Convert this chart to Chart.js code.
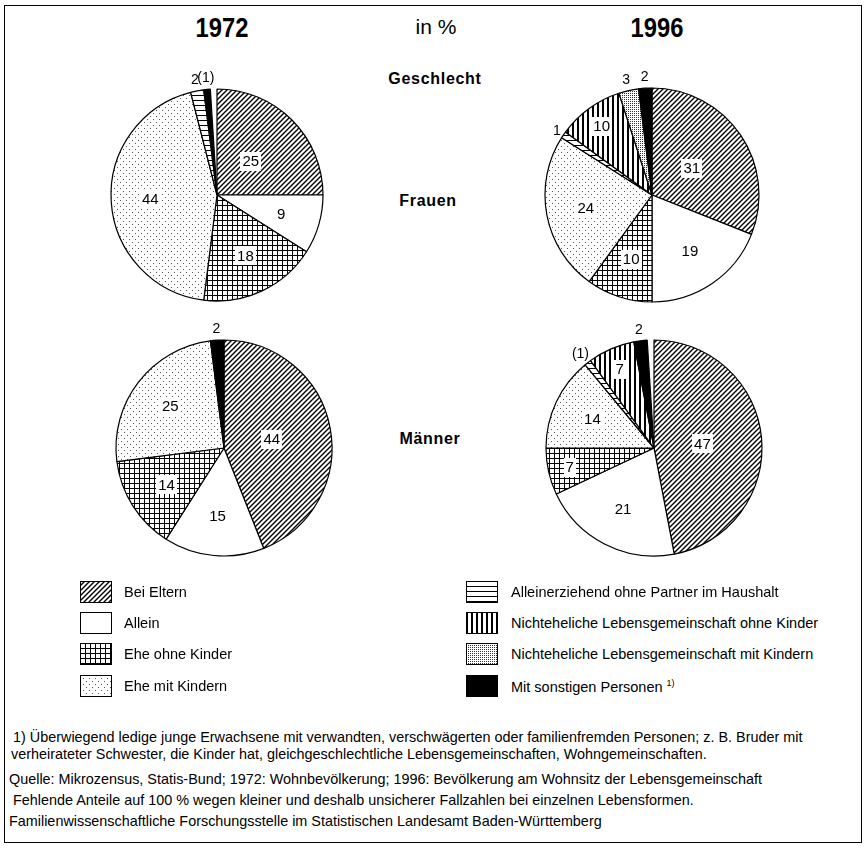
<!DOCTYPE html>
<html><head><meta charset="utf-8">
<script src="https://cdn.jsdelivr.net/npm/chart.js@4.4.0/dist/chart.umd.min.js"></script>
<style>
html,body{margin:0;padding:0;background:#fff;}
body{width:867px;height:848px;position:relative;overflow:hidden;font-family:"Liberation Sans",Arial,sans-serif;color:#000;}
#frame{position:absolute;left:4px;top:5px;width:858px;height:838px;border:1px solid #000;box-sizing:border-box;}
.c{position:absolute;transform:translate(-50%,-50%);white-space:nowrap;}
.t{font-weight:bold;font-size:27px;transform:translate(-50%,-50%) scaleX(0.88);}
.g{font-weight:bold;font-size:16px;letter-spacing:0.7px;}
canvas.pie{position:absolute;display:block;}
.leg{position:absolute;font-size:14.5px;white-space:nowrap;transform:translateY(-50%);}
canvas.sw{position:absolute;display:block;}
.note{position:absolute;font-size:14.4px;white-space:nowrap;transform:translateY(-50%);}
sup{font-size:9px;vertical-align:6px;}
</style></head>
<body>
<div id="frame"></div>
<div class="c t" style="left:222px;top:28px;">1972</div>
<div class="c" style="left:436px;top:27px;font-size:21px;">in %</div>
<div class="c t" style="left:657px;top:28px;">1996</div>
<div class="c g" style="left:435px;top:79px;">Geschlecht</div>
<div class="c g" style="left:428px;top:201px;">Frauen</div>
<div class="c g" style="left:430px;top:439px;">Männer</div>

<canvas class="pie" id="p1" width="260" height="260" style="left:87px;top:65px;"></canvas>
<canvas class="pie" id="p2" width="260" height="260" style="left:522px;top:65px;"></canvas>
<canvas class="pie" id="p3" width="260" height="260" style="left:94px;top:318px;"></canvas>
<canvas class="pie" id="p4" width="260" height="260" style="left:524px;top:318px;"></canvas>

<div id="legend"></div>

<div class="note" style="left:13px;top:737px;">1) Überwiegend ledige junge Erwachsene mit verwandten, verschwägerten oder familienfremden Personen; z. B. Bruder mit</div>
<div class="note" style="left:11px;top:754px;">verheirateter Schwester, die Kinder hat, gleichgeschlechtliche Lebensgemeinschaften, Wohngemeinschaften.</div>
<div class="note" style="left:9px;top:779px;">Quelle: Mikrozensus, Statis-Bund; 1972: Wohnbevölkerung; 1996: Bevölkerung am Wohnsitz der Lebensgemeinschaft</div>
<div class="note" style="left:13px;top:800px;">Fehlende Anteile auf 100 % wegen kleiner und deshalb unsicherer Fallzahlen bei einzelnen Lebensformen.</div>
<div class="note" style="left:9px;top:821px;">Familienwissenschaftliche Forschungsstelle im Statistischen Landesamt Baden-Württemberg</div>

<script>
// ---- data ----
const categories = ["Bei Eltern", "Allein", "Ehe ohne Kinder", "Ehe mit Kindern",
  "Alleinerziehend ohne Partner im Haushalt", "Nichteheliche Lebensgemeinschaft ohne Kinder",
  "Nichteheliche Lebensgemeinschaft mit Kindern", "Mit sonstigen Personen"];
const patternKinds = ["diag", "white", "grid", "dots", "hlines", "vstripes", "fine", "black"];
const frauen1972 = [25, 9, 18, 44, 2, 0, 0, 1];
const frauen1996 = [31, 19, 10, 24, 1, 10, 3, 2];
const maenner1972 = [44, 15, 14, 25, 0, 0, 0, 2];
const maenner1996 = [47, 21, 7, 14, 1, 7, 0, 2];
// indices of values printed in parentheses (uncertain)
const unsicherFrauen1972 = [7];
const unsicherFrauen1996 = [];
const unsicherMaenner1972 = [];
const unsicherMaenner1996 = [4];

// ---- patterns ----
function tile(kind) {
  const c = document.createElement('canvas');
  const x = c.getContext('2d');
  let w = 5, h = 5;
  if (kind === 'dots') { w = 6; h = 6; }
  if (kind === 'fine') { w = 2; h = 2; }
  if (kind === 'hlines') { w = 1; h = 5; }
  if (kind === 'vstripes') { w = 5; h = 1; }
  c.width = w; c.height = h;
  x.fillStyle = '#fff'; x.fillRect(0, 0, w, h);
  x.fillStyle = '#000'; x.strokeStyle = '#000';
  switch (kind) {
    case 'diag':
      x.lineWidth = 1.4;
      x.beginPath();
      x.moveTo(-1, 6); x.lineTo(6, -1);
      x.moveTo(-1, 1); x.lineTo(1, -1);
      x.moveTo(4, 6); x.lineTo(6, 4);
      x.stroke();
      break;
    case 'grid':
      x.fillRect(0, 0, 5, 1); x.fillRect(0, 0, 1, 5);
      break;
    case 'dots':
      x.fillStyle = '#555';
      x.fillRect(0, 0, 1, 1); x.fillRect(3, 3, 1, 1);
      break;
    case 'fine':
      x.fillStyle = '#333';
      x.fillRect(0, 0, 1, 1);
      break;
    case 'hlines':
      x.fillRect(0, 0, 1, 1);
      break;
    case 'vstripes':
      x.fillRect(0, 0, 2, 1);
      break;
    case 'black':
      x.fillRect(0, 0, w, h);
      break;
  }
  return c;
}
function fillFor(ctx, kind) {
  if (kind === 'white') return '#ffffff';
  if (kind === 'black') return '#000000';
  return ctx.createPattern(tile(kind), 'repeat');
}

// ---- labels plugin ----
const sliceLabels = {
  id: 'sliceLabels',
  afterDatasetsDraw(chart) {
    const ctx = chart.ctx;
    const meta = chart.getDatasetMeta(0);
    const ds = chart.data.datasets[0];
    meta.data.forEach((arc, i) => {
      const v = ds.data[i];
      if (!v) return;
      const p = arc.getProps(['x', 'y', 'startAngle', 'endAngle', 'outerRadius'], true);
      const mid = (p.startAngle + p.endAngle) / 2;
      const paren = ds.unsure.includes(i);
      const txt = paren ? '(' + v + ')' : String(v);
      let r, box = true, size = 15;
      if (v < 4) { r = p.outerRadius + (v === 1 && !paren ? 8 : 12); box = false; size = 14; }
      else if (i === 0) r = p.outerRadius * 0.45;
      else if (v <= 8 || i === 5) r = p.outerRadius * 0.8;
      else r = p.outerRadius * 0.63;
      const px = p.x + Math.cos(mid) * r;
      const py = p.y + Math.sin(mid) * r;
      ctx.save();
      ctx.font = size + 'px "Liberation Sans", Arial, sans-serif';
      ctx.textAlign = 'center';
      ctx.textBaseline = 'middle';
      if (box) {
        const tw = ctx.measureText(txt).width;
        ctx.fillStyle = '#fff';
        ctx.fillRect(Math.round(px - tw / 2 - 2), Math.round(py - 9), Math.round(tw + 4), 19);
      }
      ctx.fillStyle = '#000';
      ctx.fillText(txt, px, py + 1);
      ctx.restore();
    });
  }
};

function makePie(id, values, unsure, radius) {
  const canvas = document.getElementById(id);
  const ctx = canvas.getContext('2d');
  const total = values.reduce((a, b) => a + b, 0);
  new Chart(ctx, {
    type: 'pie',
    data: {
      labels: categories,
      datasets: [{
        data: values,
        unsure: unsure,
        backgroundColor: patternKinds.map(k => fillFor(ctx, k)),
        borderColor: '#000',
        borderWidth: 1.2,
        circumference: total * 3.6,
        rotation: 0
      }]
    },
    options: {
      responsive: false,
      animation: false,
      devicePixelRatio: 1,
      radius: radius,
      layout: { padding: 0 },
      events: [],
      plugins: { legend: { display: false }, tooltip: { enabled: false } }
    },
    plugins: [sliceLabels]
  });
}
makePie('p1', frauen1972, unsicherFrauen1972, 106);
makePie('p2', frauen1996, unsicherFrauen1996, 107);
makePie('p3', maenner1972, unsicherMaenner1972, 108);
makePie('p4', maenner1996, unsicherMaenner1996, 108);

// ---- legend ----
const legendRowsY = [592, 623, 654, 686];
const legendCols = [{ box: 80, text: 124 }, { box: 466, text: 511 }];
const legend = document.getElementById('legend');
categories.forEach((name, i) => {
  const col = legendCols[Math.floor(i / 4)];
  const y = legendRowsY[i % 4];
  const c = document.createElement('canvas');
  c.className = 'sw'; c.width = 32; c.height = 22;
  c.style.left = col.box + 'px'; c.style.top = (y - 11) + 'px';
  const x = c.getContext('2d');
  x.fillStyle = fillFor(x, patternKinds[i]);
  x.fillRect(0, 0, 32, 22);
  x.strokeStyle = '#000'; x.lineWidth = 1;
  x.strokeRect(0.5, 0.5, 31, 21);
  legend.appendChild(c);
  const t = document.createElement('div');
  t.className = 'leg';
  t.style.left = col.text + 'px'; t.style.top = y + 'px';
  t.innerHTML = name + (i === 7 ? ' <sup>1)</sup>' : '');
  legend.appendChild(t);
});
</script>
</body></html>
